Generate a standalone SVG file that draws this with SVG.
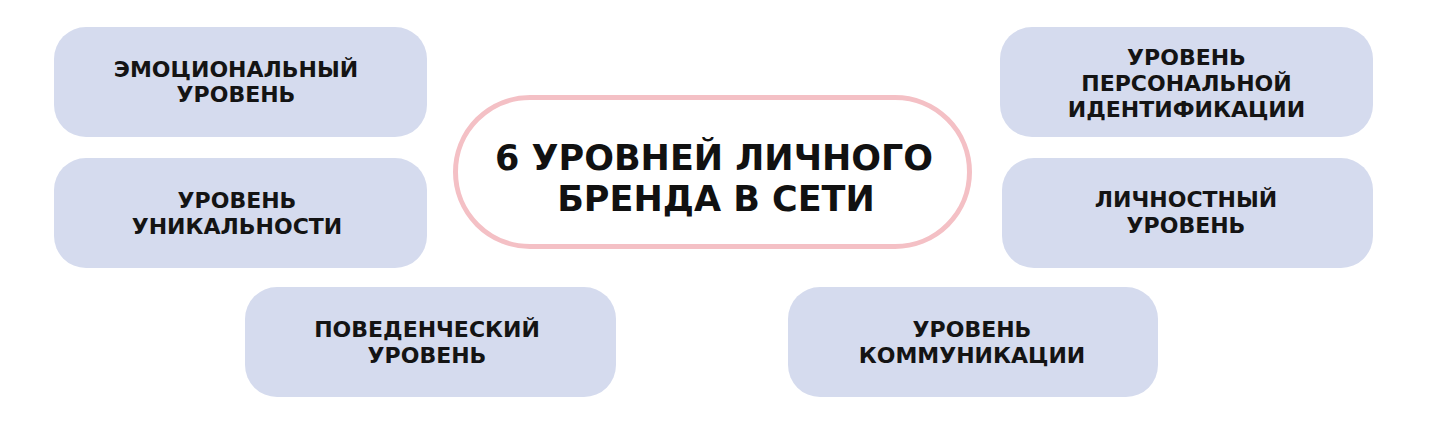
<svg xmlns="http://www.w3.org/2000/svg" width="1440" height="422" viewBox="0 0 1440 422">
  <style>
    .box { fill: #d5dbee; }
    .lbl { font-family: "DejaVu Sans", "Liberation Sans", sans-serif; font-weight: 700; font-size: 22px; fill: #141414; text-anchor: middle; }
    .title { font-family: "DejaVu Sans", "Liberation Sans", sans-serif; font-weight: 700; font-size: 35px; fill: #111111; text-anchor: middle; }
    .pill { fill: #ffffff; stroke: #f4c0c5; stroke-width: 5; }
  </style>
  <rect width="1440" height="422" fill="#ffffff"/>
  <g id="connectors"></g>
  <g id="center">
    <rect class="pill" x="455.5" y="97.5" width="514" height="149" rx="74.5"/>
    <text class="title" x="714" y="170">6 УРОВНЕЙ ЛИЧНОГО</text>
    <text class="title" x="716" y="211">БРЕНДА В СЕТИ</text>
  </g>
  <g id="n-emotional">
    <rect class="box" x="54" y="27" width="373" height="110" rx="32"/>
    <text class="lbl" x="236" y="77">ЭМОЦИОНАЛЬНЫЙ</text>
    <text class="lbl" x="236" y="102">УРОВЕНЬ</text>
  </g>
  <g id="n-unique">
    <rect class="box" x="54" y="158" width="373" height="110" rx="32"/>
    <text class="lbl" x="237" y="208">УРОВЕНЬ</text>
    <text class="lbl" x="237" y="234">УНИКАЛЬНОСТИ</text>
  </g>
  <g id="n-behavior">
    <rect class="box" x="245" y="287" width="371" height="110" rx="32"/>
    <text class="lbl" x="427" y="337">ПОВЕДЕНЧЕСКИЙ</text>
    <text class="lbl" x="427" y="363">УРОВЕНЬ</text>
  </g>
  <g id="n-identification">
    <rect class="box" x="1000" y="27" width="373" height="110" rx="32"/>
    <text class="lbl" x="1186.5" y="65">УРОВЕНЬ</text>
    <text class="lbl" x="1186.5" y="91">ПЕРСОНАЛЬНОЙ</text>
    <text class="lbl" x="1186.5" y="117">ИДЕНТИФИКАЦИИ</text>
  </g>
  <g id="n-personal">
    <rect class="box" x="1002" y="158" width="371" height="110" rx="32"/>
    <text class="lbl" x="1186" y="207">ЛИЧНОСТНЫЙ</text>
    <text class="lbl" x="1186" y="233">УРОВЕНЬ</text>
  </g>
  <g id="n-communication">
    <rect class="box" x="788" y="287" width="370" height="110" rx="32"/>
    <text class="lbl" x="972" y="337">УРОВЕНЬ</text>
    <text class="lbl" x="972" y="363">КОММУНИКАЦИИ</text>
  </g>
</svg>
